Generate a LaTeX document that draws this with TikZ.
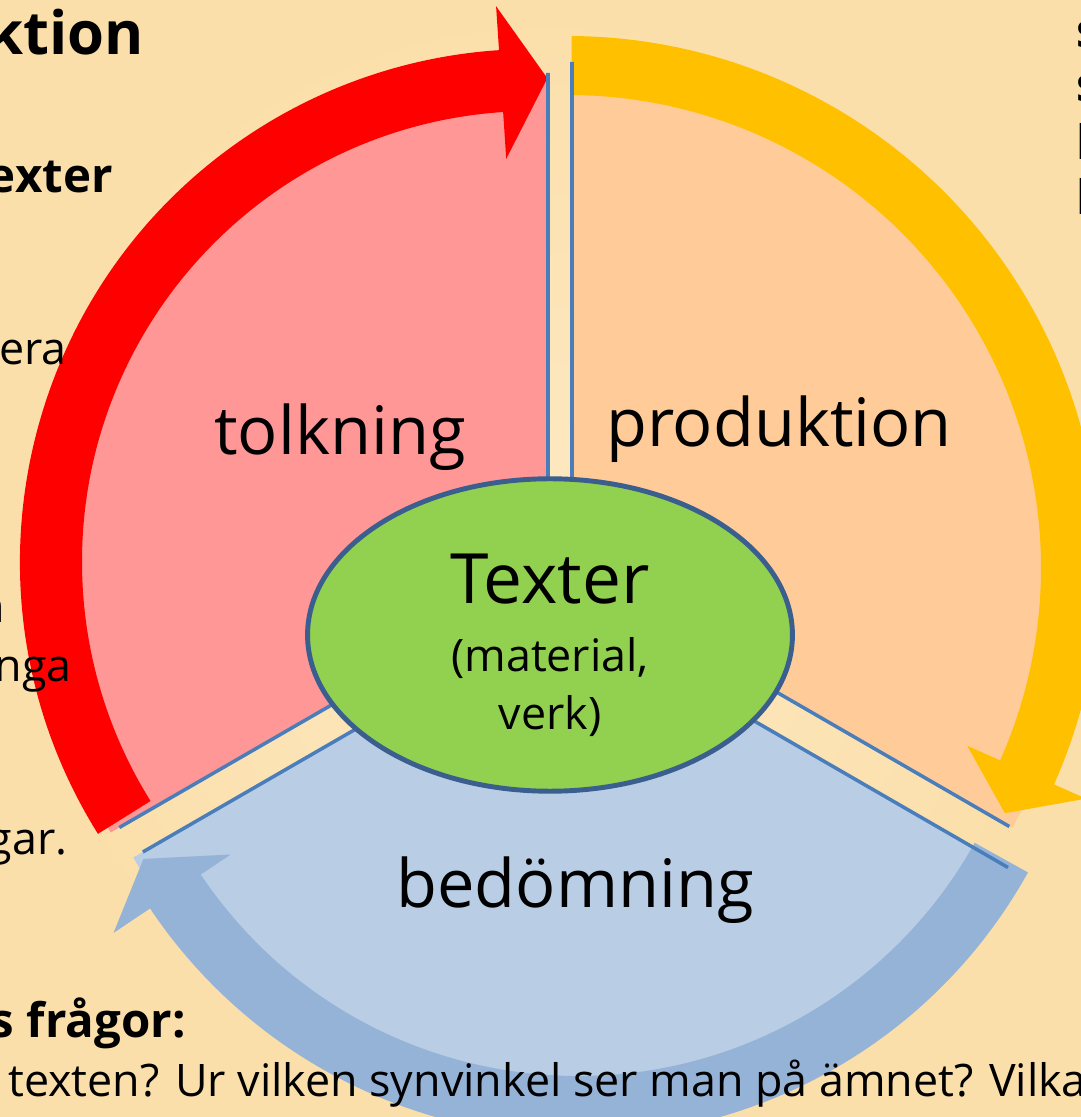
\documentclass[tikz,border=0pt]{standalone}
\usepackage{fontspec}
\setmainfont{Open Sans}
\usetikzlibrary{shapes.geometric}
\definecolor{bglight}{HTML}{FDE9C3}
\definecolor{bgdark}{HTML}{FBDFAA}
\definecolor{tolkfill}{HTML}{FF9797}
\definecolor{prodfill}{HTML}{FFCC99}
\definecolor{bedfill}{HTML}{B9CDE5}
\definecolor{tolkarrow}{HTML}{FF0000}
\definecolor{prodarrow}{HTML}{FFC000}
\definecolor{bedarrow}{HTML}{95B3D7}
\definecolor{edgeblue}{HTML}{4A7EBB}
\definecolor{kernblue}{HTML}{3A5F8F}
\definecolor{kerngreen}{HTML}{92D050}
\begin{document}
\begin{tikzpicture}[x=0.02cm,y=0.02cm,every node/.style={inner sep=0pt},
  edge/.style={draw=edgeblue,line width=2pt},
  big/.style={font=\fontsize{38}{44}\selectfont},
  small/.style={font=\fontsize{25.5}{30}\selectfont},
  side/.style={font=\fontsize{27}{32}\selectfont\bfseries}]
\useasboundingbox (0,0) rectangle (1081,1117);
\clip (0,0) rectangle (1081,1117);
\shade[inner color=bglight,outer color=bgdark] (0,0) rectangle (1081,1117);
% sectors
\coordinate (tolkapex) at (548,537);
\coordinate (prodapex) at (572,543);
\coordinate (bedapex) at (562,507);
\fill[tolkfill] (tolkapex) -- ++(90:505) arc[start angle=90,end angle=210,radius=505] -- cycle;
\fill[prodfill] (prodapex) -- ++(-30:508) arc[start angle=-30,end angle=90,radius=508] -- cycle;
\fill[bedfill] (bedapex) -- ++(210:495) arc[start angle=210,end angle=330,radius=495] -- cycle;
% arrows
\begin{scope}[shift={(533,555)}]
\fill[tolkarrow] (212:513) arc[start angle=212,end angle=93.8,radius=513] -- (93.8:557) -- (88.3:484)
  -- (93.8:404) -- (93.8:451) arc[start angle=93.8,end angle=212,radius=451] -- cycle;
\end{scope}
\begin{scope}[shift={(568,549)}]
\fill[prodarrow] (89.6:532) arc[start angle=89.6,end angle=-24,radius=532] -- (-24:567) -- (-29.3:501)
  -- (-24:437) -- (-24:473) arc[start angle=-24,end angle=89.6,radius=473] -- cycle;
\end{scope}
\begin{scope}[shift={(578,495)}]
\fill[bedarrow] (-29.1:515) arc[start angle=-29.1,end angle=-146.2,radius=515] -- (-146.2:559) -- (-151.4:495)
  -- (-146.2:418) -- (-146.2:454) arc[start angle=-146.2,end angle=-29.1,radius=454] -- cycle;
\end{scope}
% edges
\draw[edge] (tolkapex) ++(90:507) -- (tolkapex) -- ++(210:495);
\draw[edge] (prodapex) ++(90:512) -- (prodapex) -- ++(-30:505);
\draw[edge] (bedapex) ++(210:484) -- (bedapex) -- ++(-30:515);
% centre
\node[ellipse,draw=kernblue,line width=2.8pt,fill=kerngreen,minimum width=9.7cm,minimum height=6.25cm] (kern) at (550,482) {};
\node[font=\fontsize{39.5}{44}\selectfont,anchor=base] (texter) at (550,513) {Texter};
\node[small,anchor=base] (material) at (550,445) {(material,};
\node[small,anchor=base] (verk) at (550,387) {verk)};
\node[big,anchor=base] (tolkning) at (340,662) {tolkning};
\node[big,anchor=base] (produktion) at (779,670) {produktion};
\node[big,anchor=base] (bedomning) at (575,209) {bedömning};
% text at the edges
\node[font=\fontsize{34}{40}\selectfont\bfseries,anchor=base east] (rubrik) at (144,1062) {ktion};
\node[side,anchor=base east] (exter) at (113,924) {exter};
\node[small,anchor=base east] (cera) at (67,752) {cera};
\node[small,anchor=base east] (nrest) at (5,494) {n};
\node[small,anchor=base east] (nga) at (72,435) {nga};
\node[small,anchor=base east] (gar) at (68,262) {gar.};
\node[side,anchor=base east] (fragor) at (186,79) {s frågor:};
\node[small,anchor=base west] (texten) at (8,20) {texten? Ur vilken synvinkel ser man på ämnet? Vilka};
\node[side,anchor=base west] (sa) at (1076,1069) {s};
\node[side,anchor=base west] (sb) at (1076,1015) {s};
\node[side,anchor=base west] (la) at (1076,957) {l};
\node[side,anchor=base west] (lb) at (1076,902) {l};
\end{tikzpicture}
\end{document}
